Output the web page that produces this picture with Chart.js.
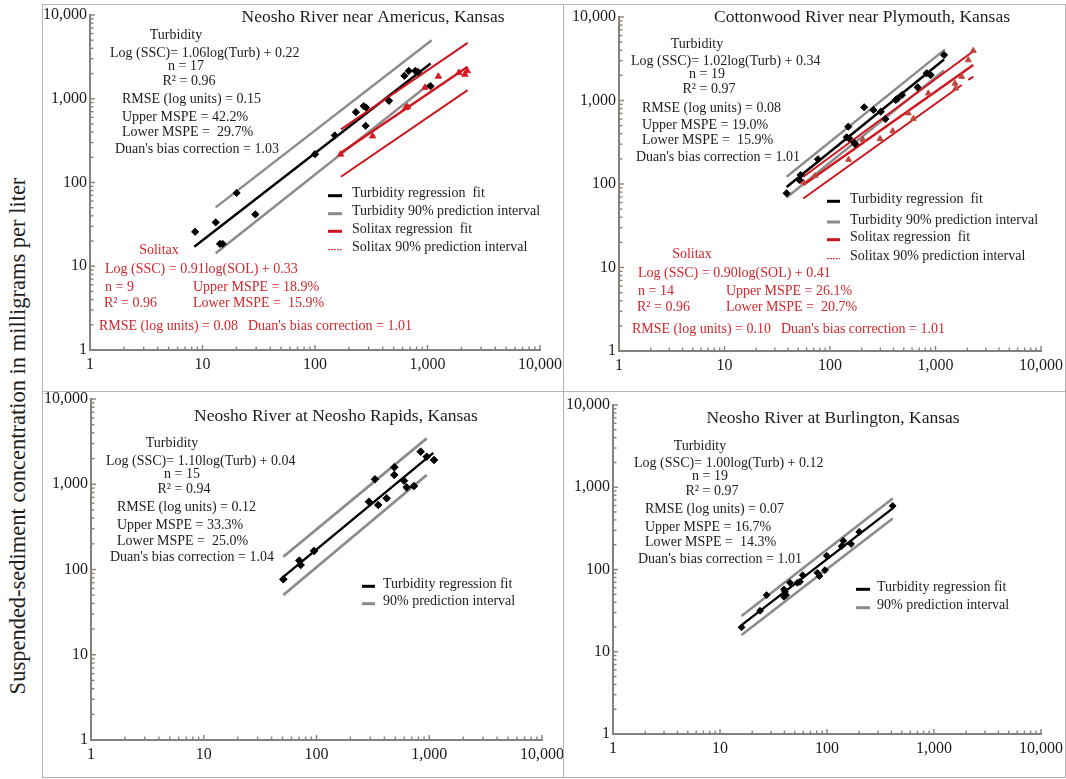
<!DOCTYPE html>
<html>
<head>
<meta charset="utf-8">
<title>Suspended-sediment concentration regressions</title>
<script src="https://cdn.jsdelivr.net/npm/chart.js@4/dist/chart.umd.min.js"></script>
<style>
  html, body { margin: 0; padding: 0; background: #fff; }
  #page { position: relative; width: 1066px; height: 779px; overflow: hidden; font-family: "Liberation Serif", "Times New Roman", serif; }
  .rule { position: absolute; background: #b3b3b3; }
  canvas { position: absolute; }
  #ytitle { position: absolute; left: 18px; top: 436px; transform: translate(-50%, -50%) rotate(-90deg);
            white-space: nowrap; font-size: 22.5px; color: #1e1e1e; }
</style>
</head>
<body>
<div id="page">
  <div class="rule" style="left:42px;top:4px;width:1024px;height:1px"></div>
  <div class="rule" style="left:42px;top:777px;width:1024px;height:1px"></div>
  <div class="rule" style="left:42px;top:4px;width:1px;height:774px"></div>
  <div class="rule" style="left:1065px;top:4px;width:1px;height:774px"></div>
  <div class="rule" style="left:563px;top:4px;width:1px;height:774px"></div>
  <div class="rule" style="left:42px;top:391px;width:1024px;height:1px"></div>
  <div id="ytitle">Suspended-sediment concentration in milligrams per liter</div>
  <canvas id="p1" width="520" height="385" style="left:43px;top:5px"></canvas>
  <canvas id="p2" width="500" height="385" style="left:564px;top:5px"></canvas>
  <canvas id="p3" width="520" height="384" style="left:43px;top:392px"></canvas>
  <canvas id="p4" width="500" height="384" style="left:564px;top:392px"></canvas>
</div>
<script>
// ---- axis ticks (both axes, all panels) ----
const decades = [1, 10, 100, 1000, 10000];
const minorSteps = [2, 3, 4, 5, 6, 7, 8, 9];

// ---- Neosho River near Americus ----
const americusTurb    = [8.6, 13.1, 14.3, 15.1, 20.1, 29.5, 100, 150, 231, 271, 284, 282, 455, 623, 682, 778, 826, 1066];
const americusTurbSSC = [25.8, 33.4, 18.5, 18.5, 75, 41.6, 218, 365, 692, 816, 787, 475, 944, 1880, 2150, 2150, 2085, 1413];
const americusSol     = [169, 325, 640, 665, 950, 1248, 1900, 2150, 2260];
const americusSolSSC  = [217, 358, 780, 800, 1363, 1850, 2050, 1950, 2150];
const americusTurbFitX = [8.45, 1067], americusTurbFitY = [17.1, 2640];
const americusTurbUpX  = [13.1, 1089], americusTurbUpY  = [50.5, 5000];
const americusTurbLoX  = [13.1, 1052], americusTurbLoY  = [14.3, 1520];
const americusSolX     = [170, 2275];
const americusSolFitY  = [226, 2404];
const americusSolUpY   = [430, 4645];
const americusSolLoY   = [117, 1267];

// ---- Cottonwood River near Plymouth ----
const cottonTurb    = [38.8, 51.2, 52.7, 76.9, 144, 149, 152, 170, 173, 211, 258, 303, 335, 420, 435, 481, 677, 824, 900, 1205];
const cottonTurbSSC = [77.4, 112, 128, 198, 362, 486, 352, 312, 301, 829, 770, 734, 600, 1014, 1050, 1164, 1439, 2117, 2020, 3508];
const cottonSol     = [56, 72, 150, 205, 298, 393, 552, 617, 855, 1530, 1555, 1770, 2047, 2280];
const cottonSolSSC  = [105, 125, 196, 340, 348, 431, 705, 605, 1220, 1600, 1400, 1930, 3050, 3950];
const cottonTurbFitX = [38.8, 1205], cottonTurbFitY = [92, 3100];
const cottonTurbUpX  = [38.8, 1230], cottonTurbUpY  = [122, 4100];
const cottonTurbLoX  = [38.8, 1205], cottonTurbLoY  = [69, 2290];
const cottonSolFitX  = [55.8, 2280], cottonSolFitY  = [97, 2663];
const cottonSolUpX   = [55.8, 2368], cottonSolUpY   = [122, 4027];
const cottonSolLoX   = [55.8, 1771], cottonSolLoY   = [67, 1534];
const cottonSolLoTailX = [2047, 2280], cottonSolLoTailY = [1762, 1928];

// ---- Neosho River at Neosho Rapids ----
const rapidsTurb    = [50.8, 70.4, 72.4, 95, 292, 330, 353, 419, 490, 490, 597, 631, 732, 839, 949, 1102];
const rapidsTurbSSC = [76.7, 127, 113, 165, 624, 1143, 571, 684, 1581, 1285, 1101, 920, 953, 2410, 2103, 1924];
const rapidsFitX = [50.8, 1086], rapidsFitY = [82, 2330];
const rapidsPiX  = [50.8, 949];
const rapidsUpY  = [141, 3459];
const rapidsLoY  = [50.2, 1285];

// ---- Neosho River at Burlington ----
const burlTurb    = [15.9, 23.7, 27.3, 39.6, 40.5, 41.4, 39.6, 45.1, 52.8, 55.9, 59.3, 81.2, 84.8, 95.8, 99.4, 137, 142, 168, 200, 411];
const burlTurbSSC = [19.8, 31.5, 48.9, 57.3, 53.6, 48.9, 46.6, 68.9, 68.9, 70.9, 85.5, 91.2, 83.2, 98.4, 147, 192, 223, 204, 287, 594];
const burlX   = [15.9, 411];
const burlFitY = [21.1, 553];
const burlUpY  = [27.2, 731];
const burlLoY  = [16, 418];

// ---- styling ----
const FONT = '"Liberation Serif", "Times New Roman", serif';
const AXIS = '#86807b';
const INK = '#1c1c1c';
const GRAY = '#8d8a89';
const RED = '#d0141d';
const RED_TEXT = '#d2262d';
const RED_MARK = '#d61a22';
const RED_MARK_2 = '#c0473e';

const tickValues = [];
decades.forEach((d, i) => {
  tickValues.push(d);
  if (i < decades.length - 1) minorSteps.forEach(m => tickValues.push(d * m));
});
const isDecade = v => decades.includes(v);

function pts(xs, ys) { return xs.map((x, i) => ({ x, y: ys[i] })); }

function lineSet(xs, ys, color, width, extra) {
  return Object.assign({
    type: 'line', data: pts(xs, ys), showLine: true, borderColor: color, backgroundColor: color,
    borderWidth: width, pointRadius: 0, fill: false, tension: 0, order: 2
  }, extra || {});
}
function markSet(xs, ys, style, color, radius) {
  return {
    type: 'scatter', data: pts(xs, ys), pointStyle: style, pointRadius: radius, pointBorderWidth: 1,
    pointBackgroundColor: color, pointBorderColor: color, showLine: false, order: 0
  };
}

// inward tick marks along both axes
const innerTicks = {
  id: 'innerTicks',
  afterDraw(chart) {
    const { ctx, chartArea: a, scales: { x, y } } = chart;
    ctx.save();
    ctx.strokeStyle = AXIS;
    ctx.lineWidth = 1.4;
    tickValues.forEach(v => {
      const len = isDecade(v) ? 5 : 3.5;
      const px = x.getPixelForValue(v);
      ctx.beginPath(); ctx.moveTo(px, a.bottom); ctx.lineTo(px, a.bottom - len); ctx.stroke();
      const py = y.getPixelForValue(v);
      ctx.beginPath(); ctx.moveTo(a.left, py); ctx.lineTo(a.left + len, py); ctx.stroke();
    });
    ctx.restore();
  }
};

// panel title, statistics text and the key
const panelNotes = {
  id: 'panelNotes',
  afterDraw(chart, args, opts) {
    const ctx = chart.ctx;
    ctx.save();
    ctx.textBaseline = 'middle';
    if (opts.title) {
      ctx.font = '17.5px ' + FONT;
      ctx.fillStyle = INK;
      ctx.textAlign = 'center';
      ctx.fillText(opts.title.text, opts.title.x, opts.title.y);
    }
    ctx.font = '14px ' + FONT;
    (opts.items || []).forEach(it => {
      ctx.fillStyle = it.red ? RED_TEXT : INK;
      ctx.textAlign = it.align || 'left';
      ctx.fillText(it.t, it.x, it.y);
    });
    const key = opts.key;
    if (key) {
      const entries = chart.data.datasets.filter(d => d.keyLabel).sort((a, b) => a.keyRank - b.keyRank);
      entries.forEach((d, i) => {
        const yy = key.rows[i];
        ctx.save();
        ctx.strokeStyle = d.borderColor;
        ctx.lineWidth = d.keyWidth || 3;
        ctx.setLineDash(d.keyDash || []);
        ctx.beginPath(); ctx.moveTo(key.sampleX, yy + 2); ctx.lineTo(key.sampleX + key.sampleLen, yy + 2); ctx.stroke();
        ctx.restore();
        ctx.fillStyle = INK;
        ctx.textAlign = 'left';
        ctx.fillText(d.keyLabel, key.textX, yy);
      });
    }
    ctx.restore();
  }
};

function tickLabel(v) {
  return isDecade(v) ? Number(v).toLocaleString('en-US') : '';
}

function makePanel(spec) {
  const axisCommon = {
    type: 'logarithmic', min: 1, max: 10000,
    grid: { display: false, drawTicks: false },
    border: { display: true, color: AXIS, width: 2 },
    afterBuildTicks(scale) { scale.ticks = tickValues.map(v => ({ value: v, major: isDecade(v) })); }
  };
  new Chart(document.getElementById(spec.id), {
    type: 'scatter',
    data: { datasets: spec.datasets },
    options: {
      responsive: false, animation: false, devicePixelRatio: 1,
      layout: { padding: spec.pad },
      plugins: {
        legend: { display: false }, tooltip: { enabled: false },
        panelNotes: { title: spec.title, items: spec.items, key: spec.key }
      },
      scales: {
        x: Object.assign({}, axisCommon, {
          ticks: { autoSkip: false, maxRotation: 0, minRotation: 0, padding: 5, color: INK,
                   font: { family: FONT, size: 16 }, callback: tickLabel },
          afterFit(s) { s.height = spec.xHeight; s.paddingLeft = 0; s.paddingRight = 0; }
        }),
        y: Object.assign({}, axisCommon, {
          ticks: { autoSkip: false, padding: 3, color: INK,
                   font: { family: FONT, size: 16 }, callback: tickLabel },
          afterFit(s) { s.width = spec.yWidth; s.paddingTop = 0; s.paddingBottom = 0; }
        })
      }
    },
    plugins: [innerTicks, panelNotes]
  });
}

const key = (label, rank, width, dash) => ({ keyLabel: label, keyRank: rank, keyWidth: width, keyDash: dash });

makePanel({
  id: 'p1', pad: { left: 0, top: 10, right: 23, bottom: 10 }, yWidth: 47, xHeight: 30,
  title: { text: 'Neosho River near Americus, Kansas', x: 330, y: 12 },
  datasets: [
    markSet(americusTurb, americusTurbSSC, 'rectRot', '#000', 3.6),
    markSet(americusSol, americusSolSSC, 'triangle', RED_MARK, 3.6),
    lineSet(americusTurbFitX, americusTurbFitY, '#000', 2.4, key('Turbidity regression  fit', 1, 3)),
    lineSet(americusTurbUpX, americusTurbUpY, GRAY, 2.4, key('Turbidity 90% prediction interval', 2, 3)),
    lineSet(americusTurbLoX, americusTurbLoY, GRAY, 2.4),
    lineSet(americusSolX, americusSolFitY, RED, 2.4, Object.assign({ order: 1 }, key('Solitax regression  fit', 3, 3))),
    lineSet(americusSolX, americusSolUpY, RED, 2, Object.assign({ order: 1 }, key('Solitax 90% prediction interval', 4, 1, [2, 1]))),
    lineSet(americusSolX, americusSolLoY, RED, 2, { order: 1 })
  ],
  items: [
    { t: 'Turbidity', x: 133, y: 30, align: 'center' },
    { t: 'Log (SSC)= 1.06log(Turb) + 0.22', x: 67, y: 48 },
    { t: 'n = 17', x: 143, y: 61, align: 'center' },
    { t: 'R² = 0.96', x: 146, y: 76, align: 'center' },
    { t: 'RMSE (log units) = 0.15', x: 79, y: 94 },
    { t: 'Upper MSPE = 42.2%', x: 79, y: 112 },
    { t: 'Lower MSPE =  29.7%', x: 79, y: 127 },
    { t: "Duan's bias correction = 1.03", x: 72, y: 144 },
    { t: 'Solitax', x: 116, y: 245, align: 'center', red: true },
    { t: 'Log (SSC) = 0.91log(SOL) + 0.33', x: 62, y: 264, red: true },
    { t: 'n = 9', x: 62, y: 282, red: true },
    { t: 'Upper MSPE = 18.9%', x: 150, y: 282, red: true },
    { t: 'R² = 0.96', x: 61, y: 298, red: true },
    { t: 'Lower MSPE =  15.9%', x: 150, y: 298, red: true },
    { t: 'RMSE (log units) = 0.08', x: 56, y: 321, red: true },
    { t: "Duan's bias correction = 1.01", x: 205, y: 321, red: true }
  ],
  key: { sampleX: 285, sampleLen: 14, textX: 309, rows: [188.7, 206.7, 224.3, 242.7] }
});

makePanel({
  id: 'p2', pad: { left: 0, top: 12, right: 23, bottom: 9 }, yWidth: 55, xHeight: 30,
  title: { text: 'Cottonwood River near Plymouth, Kansas', x: 298, y: 12 },
  datasets: [
    markSet(cottonTurb, cottonTurbSSC, 'rectRot', '#000', 3.6),
    markSet(cottonSol, cottonSolSSC, 'triangle', RED_MARK_2, 3.4),
    lineSet(cottonTurbFitX, cottonTurbFitY, '#000', 2.4, key('Turbidity regression  fit', 1, 3)),
    lineSet(cottonTurbUpX, cottonTurbUpY, GRAY, 2.4, key('Turbidity 90% prediction interval', 2, 3)),
    lineSet(cottonTurbLoX, cottonTurbLoY, GRAY, 2.4),
    lineSet(cottonSolFitX, cottonSolFitY, RED, 2.4, Object.assign({ order: 1 }, key('Solitax regression  fit', 3, 3))),
    lineSet(cottonSolUpX, cottonSolUpY, RED, 2, Object.assign({ order: 1 }, key('Solitax 90% prediction interval', 4, 1, [2, 1]))),
    lineSet(cottonSolLoX, cottonSolLoY, RED, 2, { order: 1 }),
    lineSet(cottonSolLoTailX, cottonSolLoTailY, RED, 2, { order: 1, borderDash: [6, 5] })
  ],
  items: [
    { t: 'Turbidity', x: 133, y: 39, align: 'center' },
    { t: 'Log (SSC)= 1.02log(Turb) + 0.34', x: 67, y: 56 },
    { t: 'n = 19', x: 143, y: 69, align: 'center' },
    { t: 'R² = 0.97', x: 145, y: 84, align: 'center' },
    { t: 'RMSE (log units) = 0.08', x: 78, y: 103 },
    { t: 'Upper MSPE = 19.0%', x: 78, y: 120 },
    { t: 'Lower MSPE =  15.9%', x: 78, y: 135 },
    { t: "Duan's bias correction = 1.01", x: 72, y: 152 },
    { t: 'Solitax', x: 128, y: 249, align: 'center', red: true },
    { t: 'Log (SSC) = 0.90log(SOL) + 0.41', x: 74, y: 268, red: true },
    { t: 'n = 14', x: 74, y: 286, red: true },
    { t: 'Upper MSPE = 26.1%', x: 162, y: 286, red: true },
    { t: 'R² = 0.96', x: 73, y: 302, red: true },
    { t: 'Lower MSPE =  20.7%', x: 162, y: 302, red: true },
    { t: 'RMSE (log units) = 0.10', x: 68, y: 324, red: true },
    { t: "Duan's bias correction = 1.01", x: 217, y: 324, red: true }
  ],
  key: { sampleX: 263, sampleLen: 13, textX: 286, rows: [194.3, 215, 232.7, 251.7] }
});

makePanel({
  id: 'p3', pad: { left: 0, top: 7, right: 21, bottom: 6 }, yWidth: 48, xHeight: 30,
  title: { text: 'Neosho River at Neosho Rapids, Kansas', x: 293, y: 24 },
  datasets: [
    markSet(rapidsTurb, rapidsTurbSSC, 'rectRot', '#000', 3.8),
    lineSet(rapidsFitX, rapidsFitY, '#000', 2.4, key('Turbidity regression fit', 1, 3)),
    lineSet(rapidsPiX, rapidsUpY, GRAY, 2.8, key('90% prediction interval', 2, 3)),
    lineSet(rapidsPiX, rapidsLoY, GRAY, 2.8)
  ],
  items: [
    { t: 'Turbidity', x: 129, y: 51, align: 'center' },
    { t: 'Log (SSC)= 1.10log(Turb) + 0.04', x: 63, y: 69 },
    { t: 'n = 15', x: 139, y: 82, align: 'center' },
    { t: 'R² = 0.94', x: 141, y: 97, align: 'center' },
    { t: 'RMSE (log units) = 0.12', x: 74, y: 115 },
    { t: 'Upper MSPE = 33.3%', x: 74, y: 133 },
    { t: 'Lower MSPE =  25.0%', x: 74, y: 149 },
    { t: "Duan's bias correction = 1.04", x: 67, y: 165 }
  ],
  key: { sampleX: 319, sampleLen: 13, textX: 340, rows: [192.3, 209.7] }
});

makePanel({
  id: 'p4', pad: { left: 0, top: 13, right: 23, bottom: 12 }, yWidth: 49, xHeight: 30,
  title: { text: 'Neosho River at Burlington, Kansas', x: 269, y: 26 },
  datasets: [
    markSet(burlTurb, burlTurbSSC, 'rectRot', '#000', 3.4),
    lineSet(burlX, burlFitY, '#000', 2.4, key('Turbidity regression fit', 1, 3)),
    lineSet(burlX, burlUpY, GRAY, 2.6, key('90% prediction interval', 2, 3)),
    lineSet(burlX, burlLoY, GRAY, 2.6)
  ],
  items: [
    { t: 'Turbidity', x: 136, y: 54, align: 'center' },
    { t: 'Log (SSC)= 1.00log(Turb) + 0.12', x: 70, y: 71 },
    { t: 'n = 19', x: 146, y: 84, align: 'center' },
    { t: 'R² = 0.97', x: 148, y: 99, align: 'center' },
    { t: 'RMSE (log units) = 0.07', x: 81, y: 117 },
    { t: 'Upper MSPE = 16.7%', x: 81, y: 135 },
    { t: 'Lower MSPE =  14.3%', x: 81, y: 150 },
    { t: "Duan's bias correction = 1.01", x: 74, y: 167 }
  ],
  key: { sampleX: 292, sampleLen: 14, textX: 313, rows: [195.3, 213.7] }
});
</script>
</body>
</html>
